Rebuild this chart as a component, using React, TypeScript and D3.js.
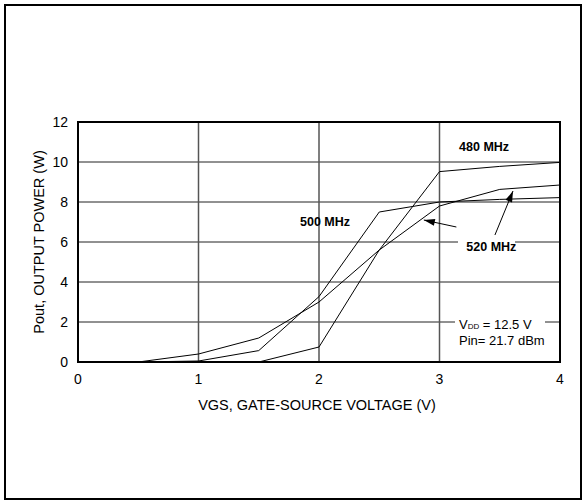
import * as d3 from 'd3';

// VGS (V) sample points
const vgs = [0, 0.5, 1, 1.5, 2, 2.5, 3, 3.5, 4];
// Pout (W) per frequency
const pout480 = [0, 0, 0, 0, 0.75, 5.6, 9.52, 9.78, 9.98];
const pout500 = [0, 0, 0.05, 0.57, 3.27, 7.5, 8.0, 8.13, 8.22];
const pout520 = [0, 0, 0.4, 1.2, 3.0, 5.6, 7.8, 8.63, 8.85];

const xTicks = [0, 1, 2, 3, 4];
const yTicks = [0, 2, 4, 6, 8, 10, 12];

// curve labels, in data units
const labels = [
  { text: '480 MHz', x: 3.37, y: 10.75 },
  { text: '500 MHz', x: 2.05, y: 7.0 },
  { text: '520 MHz', x: 3.43, y: 5.75 },
];

// arrows: tail -> tip, data units
const arrows = [
  { x1: 3.14, y1: 6.75, x2: 2.87, y2: 7.1 },
  { x1: 3.46, y1: 6.35, x2: 3.61, y2: 8.55 },
];

const W = 586;
const H = 502;
const left = 78;
const right = 560;
const top = 122;
const bottom = 362;
const font = '"Liberation Sans", Arial, sans-serif';

export default function App() {
  const x = d3.scaleLinear().domain([0, 4]).range([left, right]);
  const y = d3.scaleLinear().domain([0, 12]).range([bottom, top]);

  const line = d3
    .line<number>()
    .x((_, i) => x(vgs[i]))
    .y((d) => y(d));

  const series = [pout480, pout500, pout520];

  const arrowHead = (a: { x1: number; y1: number; x2: number; y2: number }) => {
    const tx = x(a.x2);
    const ty = y(a.y2);
    const dx = tx - x(a.x1);
    const dy = ty - y(a.y1);
    const len = Math.sqrt(dx * dx + dy * dy);
    const ux = dx / len;
    const uy = dy / len;
    const hl = 11;
    const hw = 3.5;
    const bx = tx - ux * hl;
    const by = ty - uy * hl;
    return `M${tx},${ty}L${bx - uy * hw},${by + ux * hw}L${bx + uy * hw},${by - ux * hw}Z`;
  };

  return (
    <svg
      width={W}
      height={H}
      style={{ position: 'absolute', left: 0, top: 0, background: '#fff' }}
      fontFamily={font}
    >
      <rect x={5} y={5} width={576} height={494} fill="none" stroke="#000" strokeWidth={2} />

      {/* grid */}
      {yTicks.slice(1, -1).map((t) => (
        <line key={'h' + t} x1={left} x2={right} y1={y(t)} y2={y(t)} stroke="#222" strokeWidth={1} />
      ))}
      {xTicks.slice(1, -1).map((t) => (
        <line key={'v' + t} x1={x(t)} x2={x(t)} y1={top} y2={bottom} stroke="#555" strokeWidth={1.5} />
      ))}

      {/* white boxes behind annotations */}
      <rect x={458} y={238} width={57} height={16} fill="#fff" />
      <rect x={455} y={316} width={90} height={44} fill="#fff" />

      {series.map((s, i) => (
        <path key={i} d={line(s) || ''} fill="none" stroke="#000" strokeWidth={1} />
      ))}

      {arrows.map((a, i) => (
        <g key={i}>
          <line x1={x(a.x1)} y1={y(a.y1)} x2={x(a.x2)} y2={y(a.y2)} stroke="#000" strokeWidth={1} />
          <path d={arrowHead(a)} fill="#000" />
        </g>
      ))}

      {labels.map((l) => (
        <text
          key={l.text}
          x={x(l.x)}
          y={y(l.y)}
          dy="0.35em"
          textAnchor="middle"
          fontSize={12.5}
          fontWeight="bold"
        >
          {l.text}
        </text>
      ))}

      <text x={459} y={329} fontSize={13}>
        V<tspan fontSize={8}>DD</tspan> = 12.5 V
      </text>
      <text x={459} y={345} fontSize={13}>
        Pin= 21.7 dBm
      </text>

      <rect x={left} y={top} width={right - left} height={bottom - top} fill="none" stroke="#000" strokeWidth={2} />

      {/* tick labels */}
      {yTicks.map((t) => (
        <text key={'yl' + t} x={68} y={y(t)} dy="0.35em" textAnchor="end" fontSize={14}>
          {t}
        </text>
      ))}
      {xTicks.map((t) => (
        <text key={'xl' + t} x={x(t)} y={384} textAnchor="middle" fontSize={14}>
          {t}
        </text>
      ))}

      <text x={(left + right) / 2 - 2} y={410} textAnchor="middle" fontSize={14.5}>
        VGS, GATE-SOURCE VOLTAGE (V)
      </text>
      <text
        transform={`translate(44,${(top + bottom) / 2}) rotate(-90)`}
        textAnchor="middle"
        fontSize={14.5}
      >
        Pout, OUTPUT POWER (W)
      </text>
    </svg>
  );
}
